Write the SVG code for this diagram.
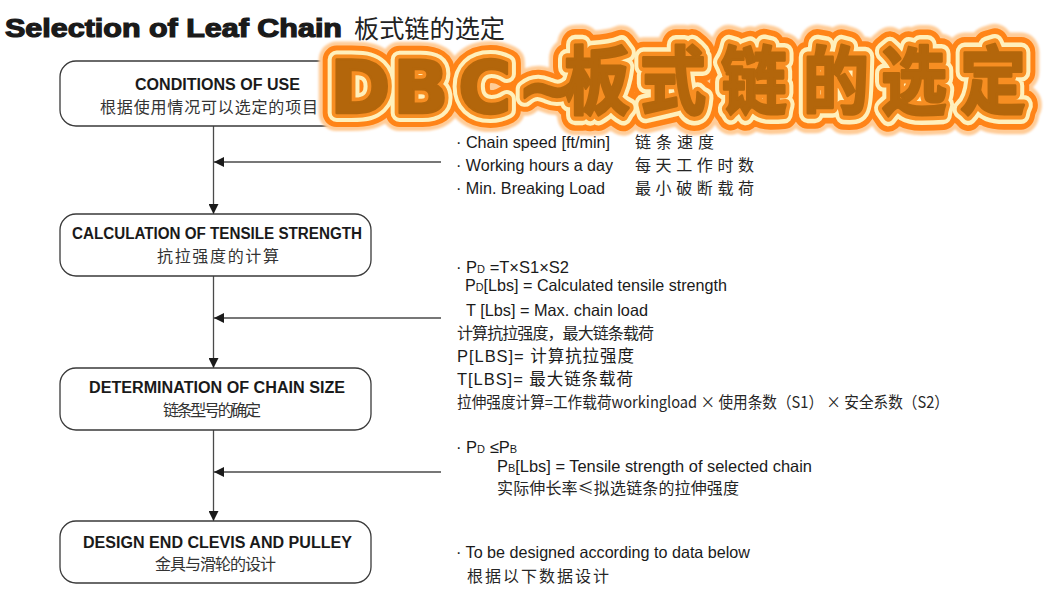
<svg xmlns="http://www.w3.org/2000/svg" width="1045" height="600" viewBox="0 0 1045 600">
<defs>
<style>
.box{fill:#fff;stroke:#3a3a3a;stroke-width:1.3}
.en{font-family:"Liberation Sans",Arial,sans-serif;font-weight:bold;font-size:16px;fill:#1a1a1a}
.cn{font-family:"Noto Sans CJK SC",sans-serif;font-size:16px;fill:#333}
.t{font-family:"Liberation Sans","Noto Sans CJK SC",sans-serif;font-size:16.5px;fill:#1a1a1a}
.tc{font-family:"Noto Sans CJK SC",sans-serif;font-size:16px;fill:#262626}
.conn{stroke:#4a4a4a;stroke-width:1.3;fill:none}
.l1{fill:none;stroke:#ffcc98;stroke-width:36;stroke-linejoin:round}
.l2{fill:none;stroke:#ff8418;stroke-width:28;stroke-linejoin:round}
.l3{fill:none;stroke:#fff0bc;stroke-width:18;stroke-linejoin:round}
.l4{fill:none;stroke:#f78e22;stroke-width:10;stroke-linejoin:round}
.l5{fill:#b3660b;stroke:#b3660b;stroke-width:2.5;stroke-linejoin:round}
</style>
<marker id="ah" markerWidth="10" markerHeight="10" refX="10" refY="5" orient="auto" markerUnits="userSpaceOnUse">
<path d="M0,0 L10,5 L0,10 z" fill="#1a1a1a"/>
</marker>
<filter id="glow" x="-10%" y="-30%" width="120%" height="160%">
<feGaussianBlur stdDeviation="0.8"/>
</filter>
<g id="wmtext">
<text x="330 393 458 517" y="113" font-family="DejaVu Sans, sans-serif" font-weight="bold" font-size="73">DBC~</text>
<g transform="matrix(1,0,0,1.12,0,-4)">
<text x="564 640 721 803 881 960" y="100" font-family="Noto Sans CJK SC, sans-serif" font-weight="bold" font-size="66">板式链的选定</text>
</g>
</g>
</defs>

<rect width="1045" height="600" fill="#fff"/>

<g id="title">
<text x="5" y="37" font-family="Liberation Sans, Arial, sans-serif" font-weight="bold" font-size="25" fill="#1a1a1a" stroke="#1a1a1a" stroke-width="1.2" textLength="337" lengthAdjust="spacingAndGlyphs">Selection of Leaf Chain</text>
<text x="354" y="38" font-family="Noto Sans CJK SC, sans-serif" font-size="25" fill="#222" textLength="151" lengthAdjust="spacingAndGlyphs">板式链的选定</text>
</g>

<g id="connectors">
<line class="conn" x1="213.5" y1="126" x2="213.5" y2="214" marker-end="url(#ah)"/>
<line class="conn" x1="213.5" y1="276" x2="213.5" y2="368" marker-end="url(#ah)"/>
<line class="conn" x1="213.5" y1="430" x2="213.5" y2="521" marker-end="url(#ah)"/>
<line class="conn" x1="441" y1="162" x2="214" y2="162" marker-end="url(#ah)"/>
<line class="conn" x1="441" y1="318" x2="214" y2="318" marker-end="url(#ah)"/>
<line class="conn" x1="441" y1="472" x2="214" y2="472" marker-end="url(#ah)"/>
</g>

<g id="node-conditions">
<rect class="box" x="60" y="61" width="311" height="65" rx="16"/>
<text class="en" x="135" y="90" textLength="165" lengthAdjust="spacingAndGlyphs">CONDITIONS OF USE</text>
<text class="cn" x="100" y="113" font-size="16.5" textLength="218" lengthAdjust="spacing">根据使用情况可以选定的项目</text>
</g>

<g id="node-calculation">
<rect class="box" x="60" y="214" width="311" height="62" rx="16"/>
<text class="en" x="72" y="239" textLength="290" lengthAdjust="spacingAndGlyphs">CALCULATION OF TENSILE STRENGTH</text>
<text class="cn" x="157" y="262" textLength="122" lengthAdjust="spacing">抗拉强度的计算</text>
</g>

<g id="node-determination">
<rect class="box" x="60" y="368" width="311" height="62" rx="16"/>
<text class="en" x="89" y="393" textLength="256" lengthAdjust="spacingAndGlyphs">DETERMINATION OF CHAIN SIZE</text>
<text class="cn" x="163" y="416" font-size="14.5" textLength="98" lengthAdjust="spacing">链条型号的确定</text>
</g>

<g id="node-design">
<rect class="box" x="60" y="521" width="311" height="62" rx="16"/>
<text class="en" x="83" y="548" textLength="269" lengthAdjust="spacingAndGlyphs">DESIGN END CLEVIS AND PULLEY</text>
<text class="cn" x="155" y="570" font-size="15" textLength="121" lengthAdjust="spacing">金具与滑轮的设计</text>
</g>

<g id="notes-conditions">
<text class="t" x="456" y="148" textLength="154" lengthAdjust="spacingAndGlyphs">· Chain speed [ft/min]</text>
<text class="t" x="456" y="171" textLength="157" lengthAdjust="spacingAndGlyphs">· Working hours a day</text>
<text class="t" x="456" y="194" textLength="149" lengthAdjust="spacingAndGlyphs">· Min. Breaking Load</text>
<text class="tc" x="635" y="148" font-size="18.5" textLength="79" lengthAdjust="spacing">链条速度</text>
<text class="tc" x="635" y="171" font-size="18.5" textLength="119" lengthAdjust="spacing">每天工作时数</text>
<text class="tc" x="635" y="194" font-size="18.5" textLength="119" lengthAdjust="spacing">最小破断载荷</text>
</g>

<g id="notes-calculation">
<text class="t" x="456" y="273">· P<tspan font-size="11">D</tspan> =T×S1×S2</text>
<text class="t" x="465" y="291" textLength="262" lengthAdjust="spacingAndGlyphs">P<tspan font-size="11">D</tspan>[Lbs] = Calculated tensile strength</text>
<text class="t" x="466" y="316" textLength="182" lengthAdjust="spacingAndGlyphs">T [Lbs] = Max. chain load</text>
<text class="tc" x="457" y="339" textLength="197" lengthAdjust="spacing">计算抗拉强度，最大链条载荷</text>
<text class="t" x="457" y="362" textLength="177" lengthAdjust="spacing">P[LBS]= 计算抗拉强度</text>
<text class="t" x="457" y="385" textLength="176" lengthAdjust="spacing">T[LBS]= 最大链条载荷</text>
<text class="tc" x="457" y="408" textLength="492" lengthAdjust="spacingAndGlyphs">拉伸强度计算=工作载荷workingload × 使用条数（S1） × 安全系数（S2）</text>
</g>

<g id="notes-determination">
<text class="t" x="456" y="453">· P<tspan font-size="11">D</tspan> ≤P<tspan font-size="11">B</tspan></text>
<text class="t" x="497" y="472" textLength="315" lengthAdjust="spacingAndGlyphs">P<tspan font-size="11">B</tspan>[Lbs] = Tensile strength of  selected chain</text>
<text class="tc" x="497" y="494" textLength="242" lengthAdjust="spacing">实际伸长率≤拟选链条的拉伸强度</text>
</g>

<g id="notes-design">
<text class="t" x="456" y="558" textLength="294" lengthAdjust="spacingAndGlyphs">· To be designed according to data below</text>
<text class="tc" x="467" y="582" font-size="17" textLength="142" lengthAdjust="spacing">根据以下数据设计</text>
</g>

<g id="watermark">
<use href="#wmtext" class="l1" filter="url(#glow)"/>
<use href="#wmtext" class="l2"/>
<use href="#wmtext" class="l3"/>
<use href="#wmtext" class="l4"/>
<use href="#wmtext" class="l5"/>
</g>
</svg>
